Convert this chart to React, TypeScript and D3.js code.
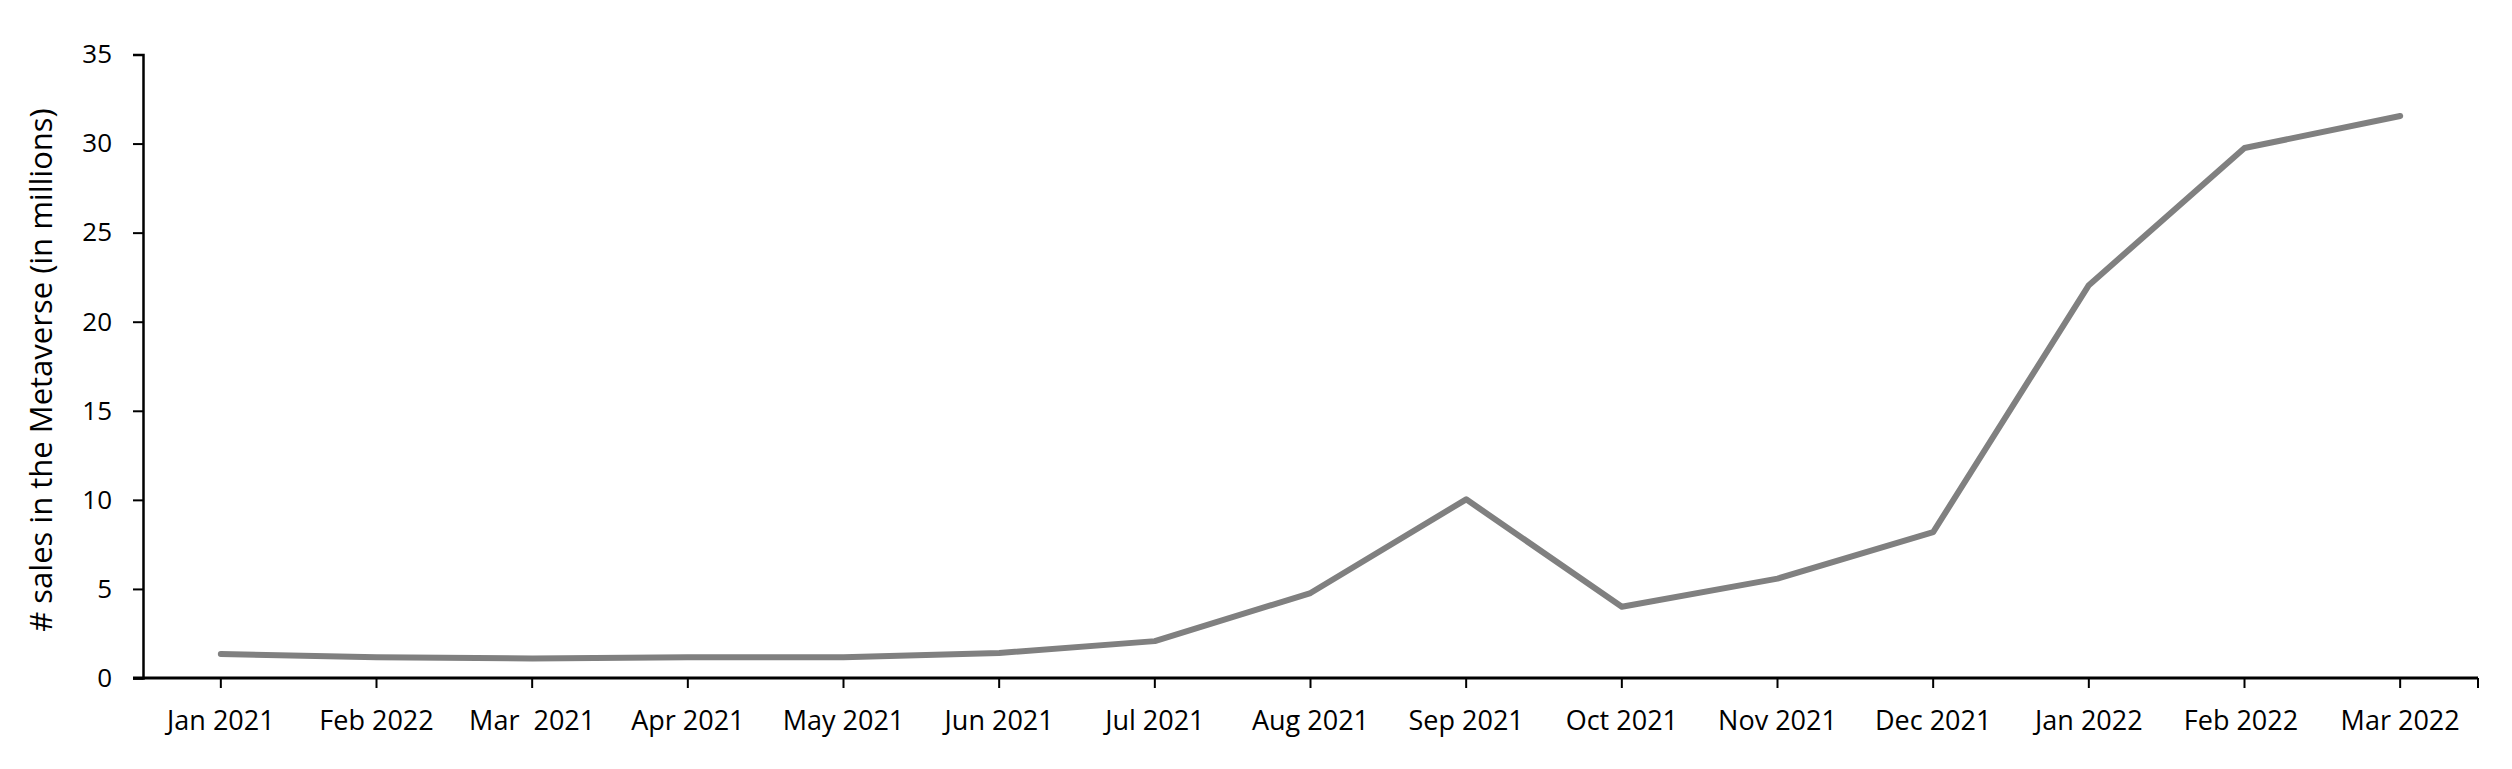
import React, { useEffect, useRef } from 'react';
import * as d3 from 'd3';

const months = [
  'Jan 2021', 'Feb 2022', 'Mar  2021', 'Apr 2021', 'May 2021', 'Jun 2021', 'Jul 2021',
  'Aug 2021', 'Sep 2021', 'Oct 2021', 'Nov 2021', 'Dec 2021', 'Jan 2022', 'Feb 2022 ', 'Mar 2022',
];
const sales = [1.35, 1.17, 1.1, 1.17, 1.17, 1.4, 2.07, 4.77, 10.03, 4.0, 5.58, 8.19, 22.05, 29.75, 31.55];
const yTicks = [0, 5, 10, 15, 20, 25, 30, 35];

const App = () => {
  const svgRef = useRef<SVGSVGElement>(null);

  useEffect(() => {
    const width = 2512;
    const height = 769;
    const margin = { top: 54.5, right: 34, bottom: 91, left: 143 };

    const svg = d3.select(svgRef.current);
    svg.selectAll('*').remove();

    const x = d3.scaleBand()
      .domain(months)
      .range([margin.left, width - margin.right]);

    const y = d3.scaleLinear()
      .domain([0, 35])
      .range([height - margin.bottom, margin.top]);

    const cx = (m: string) => (x(m) as number) + x.bandwidth() / 2;

    // x axis
    const xg = svg.append('g')
      .attr('transform', `translate(0,${y(0)})`)
      .call(d3.axisBottom(x).tickSize(10).tickSizeOuter(0));
    xg.select('.domain').remove();
    xg.append('line')
      .attr('x1', margin.left - 10).attr('x2', width - margin.right)
      .attr('stroke', '#000').attr('stroke-width', 3);
    xg.append('line')
      .attr('x1', width - margin.right).attr('x2', width - margin.right)
      .attr('y1', 0).attr('y2', 10)
      .attr('stroke', '#000').attr('stroke-width', 2);
    xg.selectAll('.tick line').attr('stroke', '#000').attr('stroke-width', 2);
    xg.selectAll('.tick text')
      .attr('y', 52)
      .attr('dy', '0')
      .style('font-family', '"Open Sans", sans-serif')
      .style('font-size', '27px')
      .style('white-space', 'pre')
      .attr('fill', '#000');

    // y axis
    const yg = svg.append('g')
      .attr('transform', `translate(${margin.left},0)`)
      .call(d3.axisLeft(y).tickValues(yTicks).tickSize(10).tickPadding(21));
    yg.select('.domain').attr('stroke', '#000').attr('stroke-width', 2.5);
    yg.selectAll('.tick line').attr('stroke', '#000').attr('stroke-width', 2);
    yg.selectAll('.tick text')
      .style('font-family', '"Open Sans", sans-serif')
      .style('font-size', '26px')
      .attr('fill', '#000');

    svg.append('text')
      .attr('transform', `translate(44,370) rotate(-90)`)
      .attr('text-anchor', 'middle')
      .attr('dominant-baseline', 'middle')
      .style('font-family', '"Open Sans", sans-serif')
      .style('font-size', '31px')
      .attr('fill', '#000')
      .text('# sales in the Metaverse (in millions)');

    const line = d3.line<number>()
      .x((_, i) => cx(months[i]))
      .y(d => y(d));

    svg.append('path')
      .datum(sales)
      .attr('d', line)
      .attr('fill', 'none')
      .attr('stroke', '#808080')
      .attr('stroke-width', 6)
      .attr('stroke-linecap', 'round')
      .attr('stroke-linejoin', 'round');
  }, []);

  return (
    <svg ref={svgRef} width={2512} height={769} style={{ display: 'block', margin: '-8px' }} />
  );
};

export default App;
